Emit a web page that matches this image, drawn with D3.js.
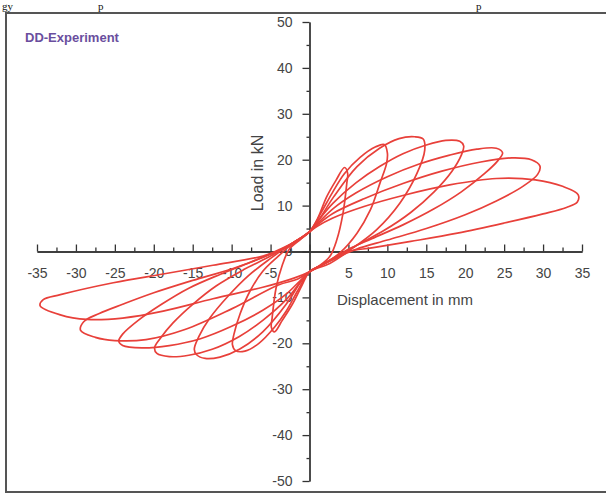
<!DOCTYPE html>
<html>
<head>
  <meta charset="utf-8">
  <script src="https://d3js.org/d3.v7.min.js"></script>
  <style>
    body { margin: 0; background: #fff; font-family: Arial, "Liberation Sans", sans-serif; }
    .tick text { font-size: 14px; fill: #444; }
    .axis path, .axis line { stroke: #333; stroke-width: 1.3px; }
    .loop { fill: none; stroke: #e8403a; stroke-width: 1.7px; stroke-linejoin: round; }
  </style>
</head>
<body>
  <svg width="606" height="495"></svg>
  <script>
    const width = 606, height = 495;

    // displacement (mm), load (kN) -- one closed loop per amplitude
    const amplitudes = [5, 10, 15, 20, 25, 30, 35];

    const loop5 = [[0,4.3],[1,7],[2.2,11.9],[3.4,15.5],[4.5,18.3],[4.9,17],[4.8,15],[4.3,8.3],[3.5,2.5],[2.6,-1.1],[1.2,-3.2],
      [0,-4.4],[-1,-7.5],[-2.2,-11.5],[-3.5,-15],[-4.5,-17.5],[-4.9,-16.5],[-4.8,-14.5],[-4.3,-8],[-3.5,-3],[-2.6,0.5],[-1.2,2.6]];
    const loop10 = [[0,4.3],[1.5,8.5],[3,13],[4.5,17],[6.5,20.5],[8.5,22.8],[9.6,23.3],[10,21.5],[9.9,19.2],[9.05,14.9],[7.8,9],[6.1,4],[3.9,-0.3],[1.8,-2.8],
      [0,-4.4],[-1.5,-8.5],[-3,-13],[-4.5,-16.5],[-6.5,-20],[-8.3,-21.7],[-9.5,-21.6],[-9.9,-20.3],[-9.7,-18],[-8.9,-13.5],[-7.6,-8.5],[-6,-4.3],[-4,-1],[-2,2]];
    const loop15 = [[0,4.3],[0.9,6.1],[3.1,11.9],[6.1,18.5],[9,22.5],[11.5,24.6],[13.5,25],[14.6,24.5],[14.8,22.1],[13.8,17],[11.6,10.5],[8.6,4.7],[5.2,0.3],[2.6,-2.6],
      [0,-4.4],[-1,-6.3],[-3,-11.5],[-6,-17.5],[-9,-21.3],[-11.5,-23],[-13.4,-23.3],[-14.5,-22.5],[-14.8,-21.3],[-14.2,-18.5],[-12.8,-14.5],[-10.5,-9.8],[-7.8,-5.2],[-5,-1.5],[-2.5,1.5]];
    const loop20 = [[0,4.3],[1,6.5],[3,10.5],[6,15],[9,18.5],[12,21.3],[15,23.2],[17.5,24.2],[19.3,24],[19.8,23],[19.5,21],[18.3,17.5],[16,13],[13,8.5],[9.5,4.5],[6,1.3],[3.5,-1.2],[1.5,-3],
      [0,-4.4],[-1,-6.3],[-3,-10.5],[-6,-15],[-9,-18.5],[-12.5,-21.3],[-15.5,-22.6],[-18,-22.9],[-19.6,-22.2],[-19.9,-21],[-19.2,-19],[-17.5,-15.5],[-15,-11.5],[-12,-7.5],[-8.5,-4],[-5,-1],[-2.5,1.5]];
    const loop25 = [[0,4.3],[1,6],[3,9.3],[6,12.8],[10,16.3],[14,19],[18,21],[21.5,22.3],[24,22.5],[24.8,21.5],[24.2,19.8],[22.5,17],[19.5,13],[16,9.3],[12,5.8],[8,2.8],[5,0.5],[2.5,-2],
      [0,-4.4],[-1,-6],[-3,-9.3],[-6,-12.8],[-10,-16.3],[-14,-19],[-18,-20.5],[-21.5,-21],[-24,-20.5],[-24.5,-19.5],[-24,-18],[-22,-15],[-19,-11.5],[-15.5,-8],[-11.5,-5],[-7.5,-2.3],[-4,0.3],[-2,2]];
    const loop30 = [[0,4.3],[1,5.8],[3,8.3],[7,11.5],[12,14.8],[17,17.5],[22,19.5],[26,20.4],[28.5,20],[29.6,18.6],[29.3,16.8],[27.5,14.3],[24,11],[20,8],[15,5],[10,2.5],[6,0.5],[3,-1.8],
      [0,-4.4],[-1.5,-6],[-4,-7.3],[-10,-12.5],[-16,-17],[-21,-19.2],[-25,-19.4],[-27.5,-18.7],[-29.4,-17.2],[-29,-15.3],[-27,-13.5],[-24,-11.5],[-20,-9],[-15,-6.3],[-10,-3.8],[-6,-1.3],[-3,1],[-1.5,2.5]];
    const loop35 = [[0,4.3],[1,5.5],[3,7.3],[7,9.8],[12,12.2],[18,14.5],[24,15.9],[29,15.6],[32.5,14.2],[34.5,12.4],[34.4,10.8],[33,9.6],[30,8.2],[25,6.2],[19,4],[13,2.2],[8,0.8],[5,0],[2.5,-2],
      [0,-4.4],[-2,-5.8],[-6,-7.8],[-12.4,-10.3],[-18.8,-13],[-24,-14.5],[-28.6,-14.8],[-32,-13.8],[-34.6,-11.8],[-34.2,-10.5],[-32,-9.4],[-25.2,-6.8],[-18.8,-4.9],[-12.4,-3],[-6,-1],[-3,0.8],[-1.3,2.5]];

    const loops = [loop5, loop10, loop15, loop20, loop25, loop30, loop35];

    const xMajor = [-35, -30, -25, -20, -15, -10, -5, 0, 5, 10, 15, 20, 25, 30, 35];
    const xMinor = [-32.5, -27.5, -22.5, -17.5, -12.5, -7.5, -2.5, 2.5, 7.5, 12.5, 17.5, 22.5, 27.5, 32.5];
    const yMajor = [-50, -40, -30, -20, -10, 0, 10, 20, 30, 40, 50];
    const yMinor = [-45, -35, -25, -15, -5, 5, 15, 25, 35, 45];

    const svg = d3.select("svg")
      .attr("width", width)
      .attr("height", height);

    // bits of the page text line just above the figure
    svg.append("g")
      .attr("font-family", "'Liberation Serif', 'Times New Roman', serif")
      .attr("font-size", 11)
      .attr("fill", "#111")
      .selectAll("text")
      .data([[2, "gy"], [98, "p"], [476, "p"]])
      .enter().append("text")
      .attr("x", d => d[0])
      .attr("y", 10)
      .text(d => d[1]);

    // frame
    svg.append("rect")
      .attr("x", 6).attr("y", 13)
      .attr("width", 610).attr("height", 479)
      .attr("fill", "#fff")
      .attr("stroke", "#555")
      .attr("stroke-width", 2);

    const x = d3.scaleLinear().domain([-35, 35]).range([37, 582]);
    const y = d3.scaleLinear().domain([-50, 50]).range([481, 22]);

    // x axis through zero, ticks pointing up
    svg.append("g")
      .attr("class", "axis")
      .attr("transform", `translate(0,${y(0)})`)
      .call(d3.axisBottom(x).tickValues(xMajor).tickSize(-7).tickSizeOuter(0).tickPadding(17)
        .tickFormat(d => d === 0 ? "" : String(d)));
    svg.append("g")
      .attr("class", "axis")
      .attr("transform", `translate(0,${y(0)})`)
      .call(d3.axisBottom(x).tickValues(xMinor).tickSize(-4).tickSizeOuter(0).tickFormat(""));

    // y axis through zero, ticks pointing left
    svg.append("g")
      .attr("class", "axis")
      .attr("transform", `translate(${x(0)},0)`)
      .call(d3.axisLeft(y).tickValues(yMajor).tickSize(7).tickSizeOuter(0).tickPadding(10)
        .tickFormat(d => String(d)));
    svg.append("g")
      .attr("class", "axis")
      .attr("transform", `translate(${x(0)},0)`)
      .call(d3.axisLeft(y).tickValues(yMinor).tickSize(3).tickSizeOuter(0).tickFormat(""));

    svg.selectAll(".axis .domain").attr("stroke", "#333");

    // hysteresis loops
    const line = d3.line()
      .x(d => x(d[0]))
      .y(d => y(d[1]))
      .curve(d3.curveCatmullRomClosed.alpha(0.5));

    svg.append("g")
      .selectAll("path")
      .data(loops)
      .enter().append("path")
      .attr("class", "loop")
      .attr("d", line);

    // titles
    svg.append("text")
      .attr("transform", `translate(263,173) rotate(-90)`)
      .attr("text-anchor", "middle")
      .attr("font-size", 16)
      .attr("fill", "#444")
      .text("Load in kN");

    svg.append("text")
      .attr("x", 337).attr("y", 305)
      .attr("font-size", 15)
      .attr("fill", "#444")
      .text("Displacement in mm");

    svg.append("text")
      .attr("x", 25).attr("y", 42)
      .attr("font-size", 13)
      .attr("font-weight", "bold")
      .attr("fill", "#6a4e9e")
      .text("DD-Experiment");
  </script>
</body>
</html>
